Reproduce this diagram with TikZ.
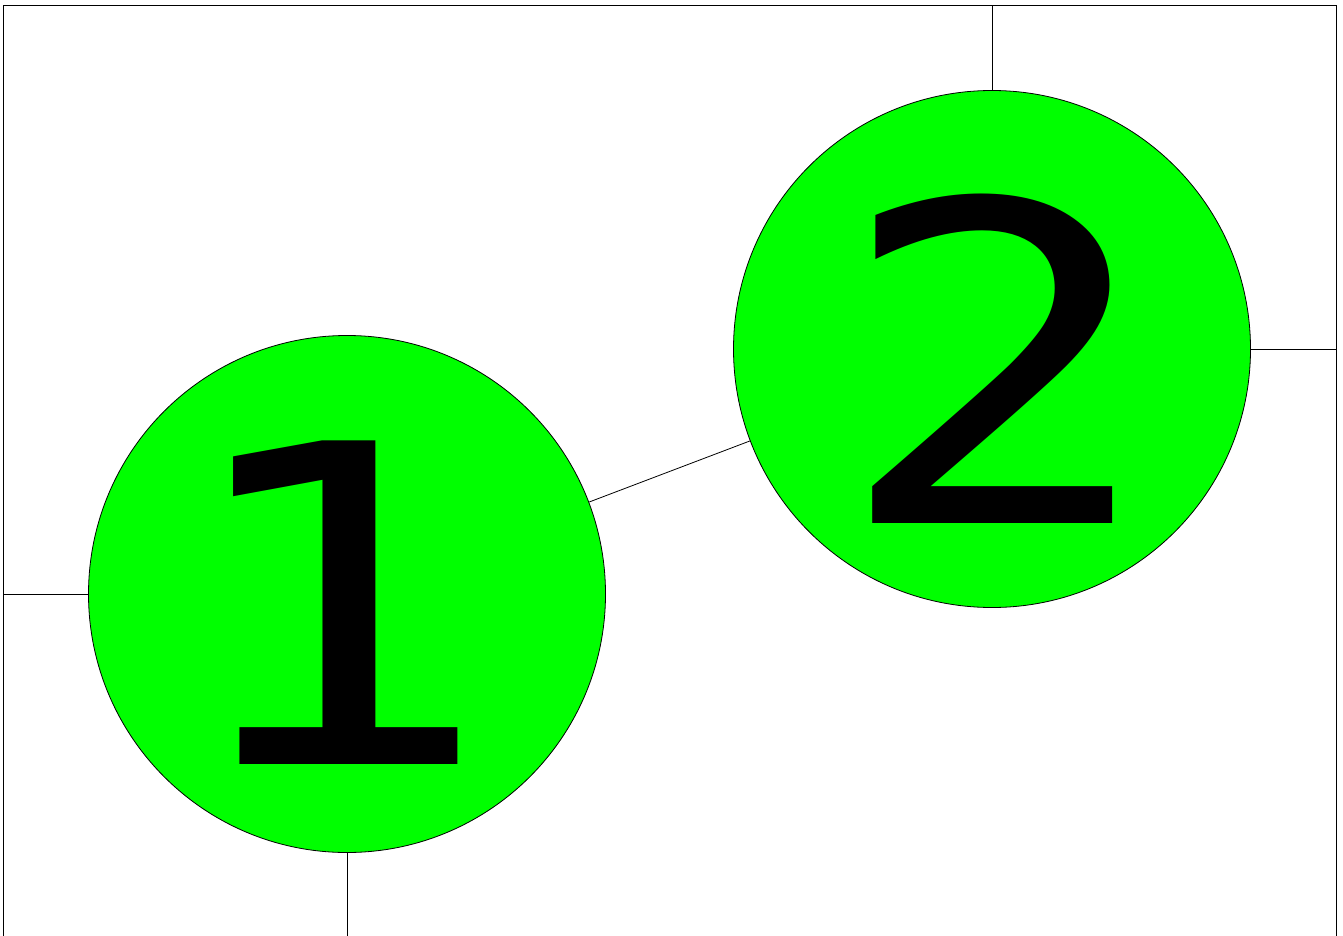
\documentclass[tikz,border=0pt]{standalone}
\usepackage{fontspec}
\newfontfamily\digitfont{DejaVu Sans Mono}[FakeStretch=1.22]
\begin{document}
\begin{tikzpicture}[x=1pt,y=1pt,
  ball/.style={circle,draw=black,line width=0.8pt,fill={rgb,255:red,0;green,255;blue,0},minimum size=517pt,inner sep=0pt},
  digit/.style={inner sep=0pt,font=\digitfont\fontsize{444}{444}\selectfont},
  wire/.style={line width=0.8pt,draw=black}]
\useasboundingbox (0,0) rectangle (1343,-936);
\draw[wire] (3,-940) -- (3,-5) -- (1336,-5) -- (1336,-940);
\node[ball] (c1) at (347,-594) {};
\node[ball] (c2) at (992,-349) {};
\node[digit] (t1) at (332,-603) {1};
\node[digit] (t2) at (996,-358.5) {2};
\coordinate (l1) at (3,-594);
\coordinate (b1) at (347,-940);
\coordinate (u2) at (992,-5);
\coordinate (r2) at (1336,-349);
\draw[wire] (c1) -- (c2);
\draw[wire] (c1.west) -- (l1);
\draw[wire] (c1.south) -- (b1);
\draw[wire] (c2.north) -- (u2);
\draw[wire] (c2.east) -- (r2);
\end{tikzpicture}
\end{document}
